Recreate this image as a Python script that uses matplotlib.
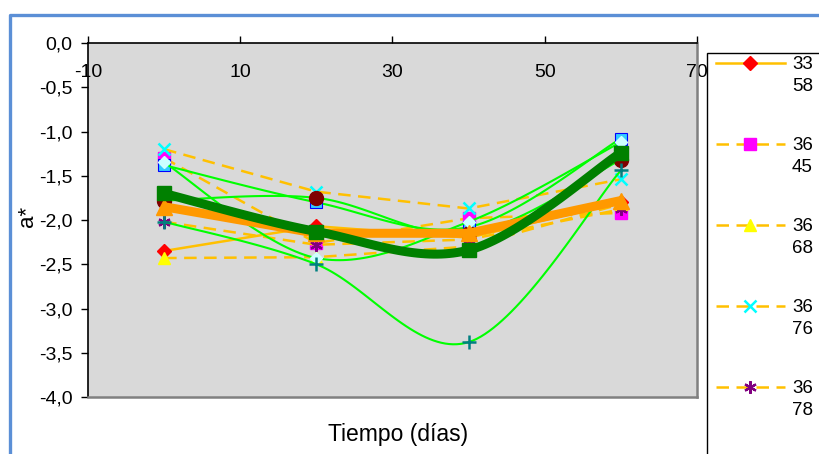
import numpy as np
import matplotlib
matplotlib.use("Agg")
import matplotlib.pyplot as plt
from matplotlib.lines import Line2D
from matplotlib.patches import Rectangle

plt.rcParams["font.family"] = ["Liberation Sans", "DejaVu Sans"]
plt.rcParams["axes.unicode_minus"] = False

# sampling days
days = [0, 20, 40, 60]

# a* per sample
s33_58 = [-2.35, -2.07, -2.20, -1.80]
s36_45 = [-1.30, -2.26, -1.98, -1.92]
s36_68 = [-2.43, -2.42, -2.30, -1.82]
s36_76 = [-1.20, -1.68, -1.87, -1.54]
s36_78 = [-2.02, -2.28, -2.22, -1.88]
s_maroon = [-1.78, -1.75, -2.15, -1.32]
s_teal = [-2.02, -2.50, -3.38, -1.44]
s_diamond = [-1.35, -2.43, -2.02, -1.12]
s_blue = [-1.38, -1.80, -2.08, -1.08]
mean_orange = [-1.85, -2.15, -2.15, -1.78]
mean_green = [-1.70, -2.13, -2.34, -1.24]

legend_labels = ["33\n58", "36\n45", "36\n68", "36\n76", "36\n78"]

x_ticks = [-10, 10, 30, 50, 70]
y_ticks = [0.0, -0.5, -1.0, -1.5, -2.0, -2.5, -3.0, -3.5, -4.0]

GOLD = "#FFC000"
LIME = "#00FF00"


def smooth(x, y, n=40):
    # Excel style smoothed line (Catmull-Rom as cubic bezier)
    p = np.column_stack([x, y]).astype(float)
    p = np.vstack([p[0], p, p[-1]])
    out = []
    t = np.linspace(0, 1, n)[:, None]
    for i in range(1, len(p) - 2):
        p0, p3 = p[i], p[i + 1]
        c1 = p0 + (p[i + 1] - p[i - 1]) / 6
        c2 = p3 - (p[i + 2] - p[i]) / 6
        seg = ((1 - t) ** 3 * p0 + 3 * (1 - t) ** 2 * t * c1
               + 3 * (1 - t) * t ** 2 * c2 + t ** 3 * p3)
        out.append(seg if i == 1 else seg[1:])
    out = np.vstack(out)
    return out[:, 0], out[:, 1]


dash = (0, (5, 3))
asterisk = (6, 2, 0)

# (values, line style, marker style, smoothed)
series = [
    (s33_58, dict(color=GOLD, lw=1.8, ls="-"),
     dict(marker="D", ms=7.5, mfc="#FF0000", mec="#FF0000"), False),
    (s36_45, dict(color=GOLD, lw=1.8, ls=dash),
     dict(marker="s", ms=8.5, mfc="#FF00FF", mec="#FF00FF"), False),
    (s36_68, dict(color=GOLD, lw=1.8, ls=dash),
     dict(marker="^", ms=9, mfc="#FFFF00", mec="#FFFF00"), False),
    (s36_76, dict(color=GOLD, lw=1.8, ls=dash),
     dict(marker="x", ms=8, mec="#00FFFF", mew=1.8), False),
    (s36_78, dict(color=GOLD, lw=1.8, ls=dash),
     dict(marker=asterisk, ms=9, mec="#800080", mew=1.6), False),
    (s_blue, dict(color=LIME, lw=1.5, ls="-"),
     dict(marker="s", ms=8, mfc="#33CCFF", mec="#0000FF", mew=0.8), True),
    (s_maroon, dict(color=LIME, lw=1.5, ls="-"),
     dict(marker="o", ms=10, mfc="#800000", mec="#800000"), True),
    (s_diamond, dict(color=LIME, lw=1.5, ls="-"),
     dict(marker="D", ms=6.5, mfc="#CCFFFF", mec="#CCFFFF"), True),
    (s_teal, dict(color=LIME, lw=1.5, ls="-"),
     dict(marker="+", ms=10, mec="#008080", mew=1.8), True),
    (mean_orange, dict(color="#FF9900", lw=6.5, ls="-"),
     dict(marker="^", ms=11, mfc="#FF9900", mec="#FF9900"), False),
    (mean_green, dict(color="#008000", lw=6.5, ls="-"),
     dict(marker="s", ms=10, mfc="#008000", mec="#008000"), True),
]

W, H = 820, 454
fig = plt.figure(figsize=(W / 100, H / 100), dpi=100)
ax = fig.add_axes([88 / W, 1 - 397 / H, (697 - 88) / W, (397 - 43) / H])
ax.set_facecolor("#D9D9D9")

for z, (vals, lstyle, mstyle, sm) in enumerate(series):
    if sm:
        xs, ys = smooth(days, vals)
    else:
        xs, ys = days, vals
    ax.plot(xs, ys, zorder=2 + z * 0.1, solid_capstyle="butt",
            dash_capstyle="butt", **lstyle)
    ax.plot(days, vals, ls="none", zorder=2 + z * 0.1 + 0.05, **mstyle)

ax.set_xlim(-10, 70)
ax.set_ylim(-4.0, 0.0)
ax.set_xticks(x_ticks)
ax.set_yticks(y_ticks)
ax.set_yticklabels([f"{v:.1f}".replace(".", ",") for v in y_ticks])
ax.tick_params(axis="x", top=True, bottom=False, labeltop=True, labelbottom=False,
               direction="out", length=5, width=1, pad=-32, labelsize=14)
ax.tick_params(axis="y", direction="out", length=5, width=1, pad=6, labelsize=14)

for side in ("left", "top"):
    ax.spines[side].set_color("black")
    ax.spines[side].set_linewidth(1.2)
for side in ("right", "bottom"):
    ax.spines[side].set_color("#808080")
    ax.spines[side].set_linewidth(1.8)

fig.text(27 / W, 1 - 216 / H, "a*", rotation=90, ha="center", va="center", fontsize=16)
fig.text(398 / W, 1 - 434 / H, "Tiempo (días)", ha="center", va="center", fontsize=16.5)

# overlay in pixel coordinates for frame and legend
ov = fig.add_axes([0, 0, 1, 1], zorder=5)
ov.set_xlim(0, W)
ov.set_ylim(H, 0)
ov.axis("off")
ov.patch.set_alpha(0)

ov.add_line(Line2D([10.5, 10.5, W], [H, 14.5, 14.5], color="#5B8FD6", lw=2.4))

ov.add_patch(Rectangle((707, 53), 200, 500, facecolor="white", edgecolor="black", lw=1))
for i, (label, (vals, lstyle, mstyle, sm)) in enumerate(zip(legend_labels, series)):
    yy = 63 + i * 81
    ov.add_line(Line2D([716, 785], [yy, yy], **lstyle))
    ov.add_line(Line2D([750], [yy], ls="none", **mstyle))
    ov.text(792, yy - 7, label, ha="left", va="top", fontsize=13.5, linespacing=1.4)

fig.savefig("out.png", dpi=100)
